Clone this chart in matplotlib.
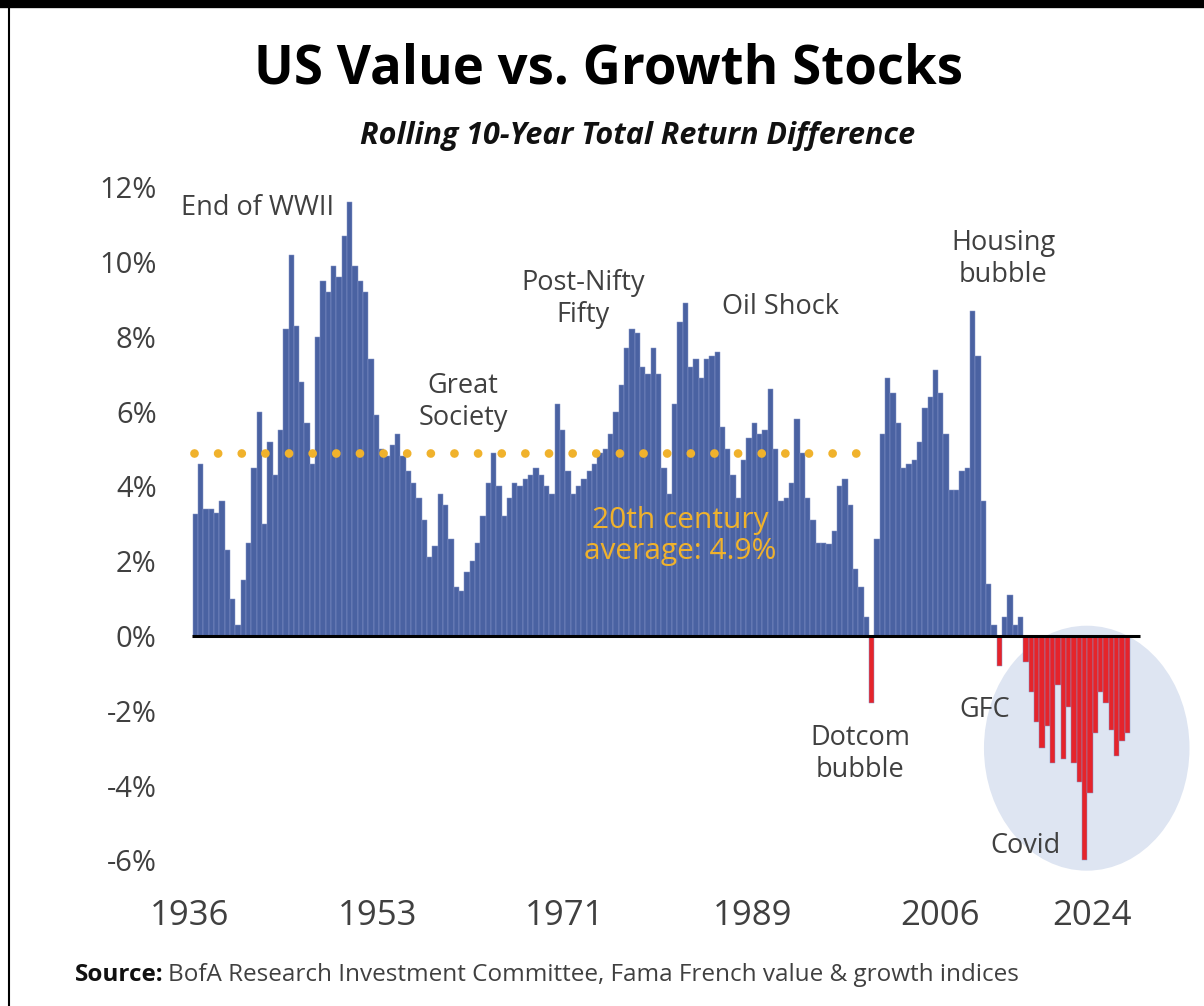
import matplotlib
matplotlib.use("Agg")
import matplotlib.pyplot as plt
from matplotlib import font_manager
from matplotlib.patches import Ellipse
import numpy as np

# Rolling 10-year value-minus-growth return difference (%), half-year steps
start_year = 1936.5
step = 0.5
diff_pct = [
    3.25, 4.6, 3.4, 3.4, 3.3, 3.6, 2.3, 1.0, 0.3, 1.5,
    2.5, 4.5, 6.0, 3.0, 5.2, 4.3, 5.5, 8.2, 10.2, 8.3,
    6.8, 5.7, 4.6, 8.0, 9.5, 9.2, 9.9, 9.6, 10.7, 11.6,
    9.9, 9.5, 9.2, 7.4, 5.9, 5.0, 4.8, 5.1, 5.4, 4.8,
    4.4, 4.1, 3.7, 3.1, 2.1, 2.4, 3.8, 3.5, 2.6, 1.3,
    1.2, 1.7, 2.0, 2.5, 3.2, 4.1, 4.9, 4.0, 3.2, 3.7,
    4.1, 4.0, 4.2, 4.3, 4.5, 4.3, 4.0, 3.8, 6.2, 5.5,
    4.4, 3.8, 4.0, 4.2, 4.4, 4.6, 4.9, 5.0, 5.4, 6.0,
    6.7, 7.7, 8.2, 8.1, 7.2, 7.0, 7.7, 7.0, 4.5, 3.8,
    6.2, 8.4, 8.9, 7.2, 7.4, 6.9, 7.4, 7.5, 7.6, 5.6,
    5.0, 4.3, 3.7, 4.7, 5.3, 5.7, 5.4, 5.5, 6.6, 5.0,
    3.6, 3.7, 4.1, 5.8, 4.9, 3.7, 3.1, 2.5, 2.5, 2.45,
    2.8, 4.0, 4.2, 3.5, 1.8, 1.3, 0.5, -1.8, 2.6, 5.4,
    6.9, 6.5, 5.7, 4.5, 4.6, 4.7, 5.2, 6.1, 6.4, 7.1,
    6.5, 5.4, 3.9, 3.9, 4.4, 4.5, 8.7, 7.5, 3.6, 1.4,
    0.3, -0.8, 0.5, 1.1, 0.3, 0.5, -0.7, -1.5, -2.3, -3.0,
    -2.4, -3.4, -1.3, -3.3, -1.9, -3.4, -3.9, -6.0, -4.2, -2.6,
    -1.5, -1.8, -2.5, -3.2, -2.8, -2.6,
]
avg_20th = 4.9
avg_span = (1936.4, 1999.6)

tick_labels = ["1936", "1953", "1971", "1989", "2006", "2024"]
tick_years = [1936.0, 1953.6, 1971.2, 1988.8, 2006.4, 2020.7]
y_ticks = [12, 10, 8, 6, 4, 2, 0, -2, -4, -6]

events = [
    ("End of WWII", 258, 208),
    ("Great\nSociety", 463, 402),
    ("Post-Nifty\nFifty", 583, 299),
    ("Oil Shock", 780, 307),
    ("Housing\nbubble", 1003, 259),
    ("Dotcom\nbubble", 860, 754),
    ("GFC", 985, 710),
    ("Covid", 1026, 846),
]

BLUE = "#4A62A2"
RED = "#E5242B"
GOLD = "#F0B22C"
GREY = "#404040"
HALO = "#DEE5F2"


def pick(*names):
    for n in names:
        try:
            font_manager.findfont(n, fallback_to_default=False)
            return n
        except Exception:
            pass
    return "DejaVu Sans"


NARROW = pick("Liberation Sans Narrow", "Open Sans", "Liberation Sans")
SANS = pick("Open Sans", "Liberation Sans")
plt.rcParams["font.family"] = [NARROW, "DejaVu Sans"]

W, H = 1204, 1006
fig = plt.figure(figsize=(W / 100, H / 100), dpi=100)
fig.patch.set_facecolor("white")

# axes placed in pixel terms: x 190..1150, y 180..880
px_per_year = 10.65
px_per_pct = 37.4
ax_l, ax_r, ax_t, ax_b = 190, 1150, 180, 880
ax = fig.add_axes([ax_l / W, 1 - ax_b / H, (ax_r - ax_l) / W, (ax_b - ax_t) / H])
x0 = 1936.0
ax.set_xlim(x0, x0 + (ax_r - ax_l) / px_per_year)
zero_px = 636
ax.set_ylim(-(ax_b - zero_px) / px_per_pct, (zero_px - ax_t) / px_per_pct)

years = start_year + step * np.arange(len(diff_pct))
vals = np.array(diff_pct)
colors = [BLUE if v >= 0 else RED for v in vals]

halo = Ellipse((2020.2, -3.0), 19.3, 6.55, facecolor=HALO, edgecolor="none",
               zorder=0, clip_on=False)
ax.add_patch(halo)

ax.bar(years, vals, width=step, color=colors, edgecolor="#8797C8",
       linewidth=0.35, zorder=2)

ax.plot([1936.2, 2025.2], [0, 0], color="black", lw=2.2, zorder=3,
        solid_capstyle="butt")
ax.plot(avg_span, [avg_20th, avg_20th], color=GOLD, lw=6.3, zorder=4,
        linestyle=(0, (0.001, 2.7)), dash_capstyle="round")

for s in ax.spines.values():
    s.set_visible(False)
ax.set_yticks(y_ticks)
ax.set_yticklabels([f"{t}%" for t in y_ticks])
ax.set_xticks(tick_years)
ax.set_xticklabels(tick_labels)
ax.tick_params(axis="y", length=0, pad=24, labelsize=21, labelcolor=GREY)
ax.tick_params(axis="x", length=0, pad=14, labelsize=25, labelcolor=GREY)


def ftext(x, y, s, **kw):
    return fig.text(x / W, 1 - y / H, s, **kw)


ftext(680, 536, "20th century\naverage: 4.9%", color=GOLD, fontsize=21.5,
      ha="center", va="center", linespacing=1.05, zorder=5)

for label, x, y in events:
    ftext(x, y, label, ha="center", va="center", fontsize=19.5, color=GREY,
          linespacing=1.2)

ftext(608, 69, "US Value vs. Growth Stocks", ha="center", va="center",
      fontsize=38, fontweight="bold", color="black", family=[SANS, "DejaVu Sans"])
ftext(638, 136, "Rolling 10-Year Total Return Difference", ha="center",
      va="center", fontsize=22, fontweight="bold", fontstyle="italic",
      color="#111111", family=[SANS, "DejaVu Sans"])

src = ftext(75, 975, "Source:", ha="left", va="center",
            fontsize=17.5, fontweight="bold", color="#111111")
fig.canvas.draw()
bb = src.get_window_extent()
fig.text((bb.x1 + 4) / W, 1 - 975 / H,
         "BofA Research Investment Committee, Fama French value & growth indices",
         ha="left", va="center", fontsize=17.5, color=GREY)

# frame
fig.add_artist(plt.Line2D([0, 1], [1 - 4 / H, 1 - 4 / H], color="black", lw=6,
                          transform=fig.transFigure))
fig.add_artist(plt.Line2D([9 / W, 9 / W], [0, 1], color="black", lw=1.5,
                          transform=fig.transFigure))

fig.savefig("out.png", dpi=100, facecolor="white")
